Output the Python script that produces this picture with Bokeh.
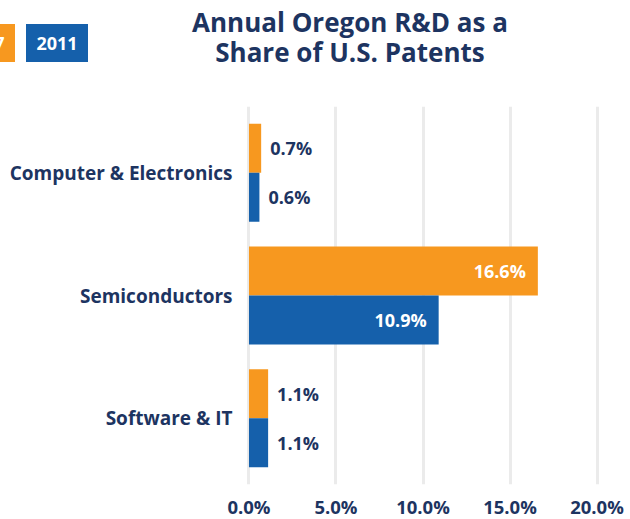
from bokeh.plotting import figure
from bokeh.layouts import column
from bokeh.models import (FactorRange, Div, FixedTicker, PrintfTickFormatter,
                          ColumnDataSource, CDSView, IndexFilter)
from bokeh.transform import dodge
from bokeh.core.properties import value
from bokeh.embed import file_html
from bokeh.resources import INLINE

# ---- data ----
categories = ["Computer & Electronics", "Semiconductors", "Software & IT"]
years = ["2007", "2011"]
share_early = [0.7, 16.6, 1.1]
share_2011 = [0.6, 10.9, 1.1]
x_ticks = [0, 5, 10, 15, 20]
title_lines = ["Annual Oregon R&amp;D as a", "Share of U.S. Patents"]

NAVY = "#1d3461"
ORANGE = "#f7981f"
BLUE = "#1560ab"
GRID = "#ebebeb"
FONT = "Open Sans"

HEADER_H = 80

# ---- header (legend chips + title) ----
chip = ("position:absolute;top:24px;width:62px;height:38px;line-height:38px;"
        "text-align:center;color:white;font-size:18px;")
tline = ("position:absolute;left:150px;width:400px;height:30px;"
         f"text-align:center;color:{NAVY};font-size:26px;line-height:30px;")
header_html = (
    f"<div style=\"position:relative;width:630px;height:{HEADER_H}px;"
    f"font-family:'{FONT}';font-weight:bold;overflow:hidden;\">"
    f"<div style=\"{chip}left:-47px;background:{ORANGE};\">{years[0]}</div>"
    f"<div style=\"{chip}left:26px;background:{BLUE};\">{years[1]}</div>"
    f"<div style=\"{tline}top:7px;\">{title_lines[0]}</div>"
    f"<div style=\"{tline}top:37px;\">{title_lines[1]}</div>"
    "</div>"
)
header = Div(text=header_html, width=630, height=HEADER_H, margin=0)

# ---- chart ----
p = figure(frame_width=355, frame_height=378,
           y_range=FactorRange(factors=categories[::-1], range_padding=0.04,
                               range_padding_units="absolute"),
           x_range=(-0.2, 20.2),
           output_backend="svg", toolbar_location=None,
           min_border_left=245, min_border_right=30,
           min_border_top=106 - HEADER_H, min_border_bottom=35, margin=0)
p.outline_line_color = None
p.background_fill_color = "white"
p.border_fill_color = "white"

src_e = ColumnDataSource(dict(cat=categories, val=share_early,
                              lab=[f"{v:.1f}%" for v in share_early]))
src_l = ColumnDataSource(dict(cat=categories, val=share_2011,
                              lab=[f"{v:.1f}%" for v in share_2011]))

p.hbar(y=dodge("cat", 0.2, range=p.y_range), left=0, right="val", height=0.4,
       source=src_e, fill_color=ORANGE, line_color=None)
p.hbar(y=dodge("cat", -0.2, range=p.y_range), left=0, right="val", height=0.4,
       source=src_l, fill_color=BLUE, line_color=None)

def add_labels(src, vals, off):
    inside = [i for i, v in enumerate(vals) if v > 5]
    outside = [i for i, v in enumerate(vals) if v <= 5]
    common = dict(source=src, text="lab", text_font=value(FONT),
                  text_font_style="bold", text_font_size="18px",
                  text_baseline="middle")
    if inside:
        p.text(x="val", y=dodge("cat", off, range=p.y_range), x_offset=-12,
               text_align="right", text_color="white",
               view=CDSView(filter=IndexFilter(inside)), **common)
    if outside:
        p.text(x="val", y=dodge("cat", off, range=p.y_range), x_offset=9,
               text_align="left", text_color=NAVY,
               view=CDSView(filter=IndexFilter(outside)), **common)

add_labels(src_e, share_early, 0.2)
add_labels(src_l, share_2011, -0.2)

# axes
p.xaxis.ticker = FixedTicker(ticks=x_ticks)
p.xaxis.formatter = PrintfTickFormatter(format="%.1f%%")
for ax in (p.xaxis[0], p.yaxis[0]):
    ax.axis_line_color = None
    ax.major_tick_line_color = None
    ax.minor_tick_line_color = None
    ax.major_tick_out = 0
    ax.major_tick_in = 0
    ax.minor_tick_out = 0
    ax.major_label_text_font = FONT
    ax.major_label_text_font_style = "bold"
    ax.major_label_text_color = NAVY
p.xaxis.major_label_text_font_size = "18.5px"
p.yaxis.major_label_text_font_size = "19px"
p.xaxis.major_label_standoff = 9
p.yaxis.major_label_standoff = 13

p.xgrid.ticker = FixedTicker(ticks=x_ticks)
p.xgrid.grid_line_color = GRID
p.xgrid.grid_line_width = 3
p.ygrid.grid_line_color = None

layout = column(header, p, spacing=0)
open("out.html", "w").write(file_html(layout, INLINE))
